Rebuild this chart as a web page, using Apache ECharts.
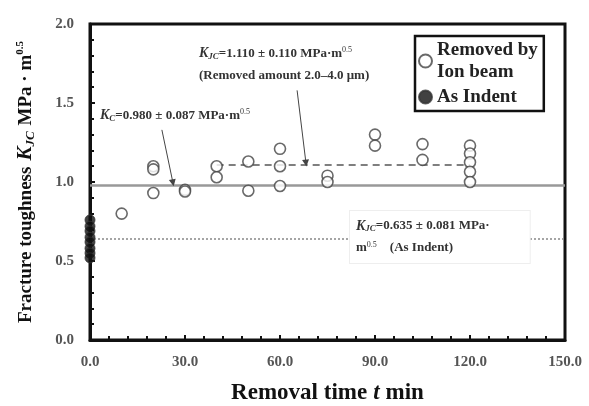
<!DOCTYPE html>
<html>
<head>
<meta charset="utf-8">
<script src="https://cdn.jsdelivr.net/npm/echarts@6/dist/echarts.min.js"></script>
<style>
  html, body { margin: 0; padding: 0; background: #fff; }
  #chart { width: 589px; height: 406px; }
</style>
</head>
<body>
<div id="chart"></div>
<script>
// removal time (min) / K_JC values
const removedX = [10, 20, 20, 20, 30, 30, 40, 40, 50, 50, 60, 60, 60, 75, 75, 90, 90, 105, 105, 120, 120, 120, 120, 120]
const removedY = [0.80, 1.10, 1.08, 0.93, 0.95, 0.94, 1.10, 1.03, 1.13, 0.945, 1.21, 1.10, 0.975, 1.04, 1.00, 1.30, 1.23, 1.24, 1.14, 1.23, 1.18, 1.125, 1.065, 1.00]
const indentX = [0, 0, 0, 0, 0, 0, 0, 0]
const indentY = [0.76, 0.72, 0.69, 0.65, 0.62, 0.58, 0.55, 0.52]

const meanKc = 0.980
const meanRemoved = 1.110
const removedRange = [40, 120]
const meanIndent = 0.635
const xTicks = ['0.0', '30.0', '60.0', '90.0', '120.0', '150.0']

const serif = '"Liberation Serif", "DejaVu Serif", serif'
const zip = (xs, ys) => xs.map((x, i) => [x, ys[i]])

const note = {
  t: { fontFamily: serif, fontWeight: 'bold', fontSize: 13, fill: '#333', lineHeight: 22 },
  i: { fontFamily: serif, fontWeight: 'bold', fontStyle: 'italic', fontSize: 14, fill: '#333', lineHeight: 22 },
  s: { fontFamily: serif, fontWeight: 'bold', fontStyle: 'italic', fontSize: 9, fill: '#333', padding: [6, 0, 0, 0] },
  p: { fontFamily: serif, fontSize: 8, fill: '#333', padding: [0, 0, 7, 0] }
}

const chart = echarts.init(document.getElementById('chart'))

chart.setOption({
  animation: false,
  textStyle: { fontFamily: serif },
  grid: {
    left: 90, right: 24, top: 24, bottom: 66,
    outerBoundsMode: 'none',
    show: true, borderColor: '#111', borderWidth: 3
  },
  legend: {
    orient: 'vertical',
    left: 415,
    top: 36,
    itemGap: 3,
    itemWidth: 13,
    itemHeight: 13,
    padding: [3, 6, 3, 3],
    borderColor: '#111',
    borderWidth: 2.5,
    textStyle: { fontFamily: serif, fontWeight: 'bold', fontSize: 19, color: '#222', lineHeight: 22 },
    data: ['Removed by\nIon beam', 'As Indent']
  },
  xAxis: {
    type: 'value',
    min: 0,
    max: 150,
    interval: 30,
    name: '{b|Removal time}  {i|t}  {b|min}',
    nameLocation: 'middle',
    nameGap: 42,
    nameTextStyle: {
      rich: {
        b: { fontFamily: serif, fontWeight: 'bold', fontSize: 23, color: '#111' },
        i: { fontFamily: serif, fontWeight: 'bold', fontStyle: 'italic', fontSize: 23, color: '#111' }
      }
    },
    axisLine: { lineStyle: { color: '#111', width: 3 } },
    axisTick: { inside: true, length: 5, lineStyle: { color: '#111', width: 2 } },
    minorTick: { show: true, splitNumber: 5, length: 4, lineStyle: { color: '#111', width: 2 } },
    splitLine: { show: false },
    axisLabel: {
      margin: 15,
      fontFamily: serif,
      fontWeight: 'bold',
      fontSize: 15,
      color: '#555',
      formatter: (v) => xTicks[v / 30]
    }
  },
  yAxis: {
    type: 'value',
    min: 0,
    max: 2,
    interval: 0.5,
    name: '{b|Fracture toughness}  {i|K}{sub|JC}  {b|MPa · m}{sup|0.5}',
    nameLocation: 'middle',
    nameRotate: 90,
    nameGap: 53,
    nameTextStyle: {
      rich: {
        b: { fontFamily: serif, fontWeight: 'bold', fontSize: 19, color: '#111' },
        i: { fontFamily: serif, fontWeight: 'bold', fontStyle: 'italic', fontSize: 21, color: '#111' },
        sub: { fontFamily: serif, fontWeight: 'bold', fontStyle: 'italic', fontSize: 13, color: '#111', padding: [9, 0, 0, 0] },
        sup: { fontFamily: serif, fontWeight: 'bold', fontSize: 11, color: '#111', padding: [0, 0, 11, 0] }
      }
    },
    axisLine: { lineStyle: { color: '#111', width: 3 } },
    axisTick: { inside: true, length: 5, lineStyle: { color: '#111', width: 2 } },
    minorTick: { show: true, splitNumber: 5, length: 4, lineStyle: { color: '#111', width: 2 } },
    splitLine: { show: false },
    axisLabel: {
      margin: 16,
      fontFamily: serif,
      fontWeight: 'bold',
      fontSize: 15,
      color: '#555',
      formatter: (v) => v.toFixed(1)
    }
  },
  series: [
    {
      name: 'Removed by\nIon beam',
      type: 'scatter',
      symbol: 'circle',
      symbolSize: 11,
      itemStyle: { color: '#fff', borderColor: '#444', borderWidth: 1.6 },
      data: zip(removedX, removedY),
      z: 5,
      markLine: {
        silent: true,
        symbol: 'none',
        label: { show: false },
        data: [
          { yAxis: meanKc, lineStyle: { color: '#999', width: 2.5, type: 'solid' } },
          [
            { coord: [removedRange[0], meanRemoved], lineStyle: { color: '#555', width: 1.6, type: [7, 5] } },
            { coord: [removedRange[1], meanRemoved] }
          ],
          { yAxis: meanIndent, lineStyle: { color: '#888', width: 1.5, type: [2, 2] } }
        ]
      }
    },
    {
      name: 'As Indent',
      type: 'scatter',
      symbol: 'circle',
      symbolSize: 10,
      itemStyle: { color: '#111', borderColor: '#333', borderWidth: 1 },
      data: zip(indentX, indentY),
      z: 6,
      markLine: {
        silent: true,
        symbol: ['none', 'triangle'],
        symbolSize: 7,
        label: { show: false },
        lineStyle: { color: '#444', width: 1, type: 'solid' },
        data: [
          [{ coord: [65.4, 1.58] }, { coord: [68.2, 1.12] }],
          [{ coord: [22.7, 1.33] }, { coord: [26.2, 0.995] }]
        ]
      }
    }
  ],
  graphic: [
    {
      type: 'text',
      left: 199,
      top: 46,
      z: 10,
      style: {
        text: '{i|K}{s|JC}{t|=1.110 ± 0.110 MPa·m}{p|0.5}\n{t|(Removed amount 2.0–4.0 μm)}',
        rich: note
      }
    },
    {
      type: 'text',
      left: 100,
      top: 108,
      z: 10,
      style: {
        text: '{i|K}{s|C}{t|=0.980 ± 0.087 MPa·m}{p|0.5}',
        rich: note
      }
    },
    {
      type: 'text',
      left: 349,
      top: 210,
      z: 10,
      style: {
        text: '{i|K}{s|JC}{t|=0.635 ± 0.081 MPa·}\n{t|m}{p|0.5}{t|    (As Indent)}',
        backgroundColor: '#fff',
        borderColor: '#eee',
        borderWidth: 1,
        padding: [4, 40, 4, 6],
        rich: note
      }
    }
  ]
})
</script>
</body>
</html>
